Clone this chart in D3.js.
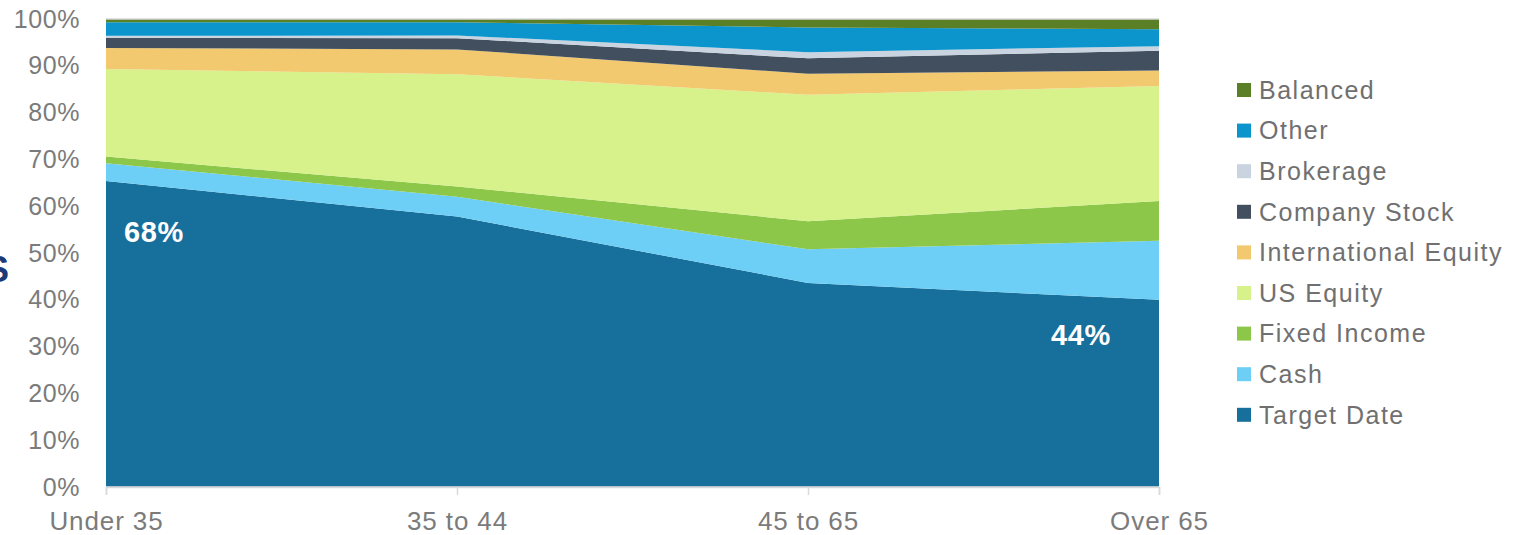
<!DOCTYPE html>
<html>
<head>
  <style>
    body { margin: 0; background: #fff; }
    svg text { font-family: "Liberation Sans", Arial, sans-serif; }
  </style>
</head>
<body>
  <svg id="chart" width="1522" height="535"></svg>
<script src="https://cdn.jsdelivr.net/npm/d3@7"></script>
<script>
  // age groups along the x axis
  let ages = ["Under 35", "35 to 44", "45 to 65", "Over 65"];

  // share of balances (%) per age group, bottom layer first
  let targetDate    = [65.4, 57.8, 43.6, 40.0];
  let cash          = [3.8, 4.2, 7.2, 12.6];
  let fixedIncome   = [1.4, 2.2, 6.0, 8.5];
  let usEquity      = [18.7, 24.0, 27.0, 24.6];
  let intlEquity    = [4.5, 5.3, 4.5, 3.3];
  let companyStock  = [2.2, 2.4, 3.3, 4.2];
  let brokerage     = [0.4, 0.6, 1.3, 1.0];
  let other         = [2.9, 2.8, 5.3, 3.6];
  let balanced      = [0.7, 0.7, 1.8, 2.2];

  let yTicks = [0, 10, 20, 30, 40, 50, 60, 70, 80, 90, 100];

  let series = [
    { name: "Target Date", values: targetDate, color: "#176f9c" },
    { name: "Cash", values: cash, color: "#6dcff6" },
    { name: "Fixed Income", values: fixedIncome, color: "#8dc74a" },
    { name: "US Equity", values: usEquity, color: "#d7f18b" },
    { name: "International Equity", values: intlEquity, color: "#f2c96f" },
    { name: "Company Stock", values: companyStock, color: "#414f5e" },
    { name: "Brokerage", values: brokerage, color: "#c9d4e0" },
    { name: "Other", values: other, color: "#0b95cc" },
    { name: "Balanced", values: balanced, color: "#5a7f27" }
  ];

  // callouts on the target date layer
  let callouts = [
    { age: "Under 35", text: "68%", dx: 18, y: 54.5 },
    { age: "Over 65", text: "44%", dx: -108, y: 32.5 }
  ];

  let rows = ages.map((a, i) => {
    let r = { age: a };
    series.forEach(s => r[s.name] = s.values[i]);
    return r;
  });

  let svg = d3.select("#chart");
  let plotLeft = 106, plotRight = 1159, plotTop = 19, plotBottom = 487;

  let x = d3.scalePoint().domain(ages).range([plotLeft, plotRight]);
  let y = d3.scaleLinear().domain([0, 100]).range([plotBottom, plotTop]);

  let stack = d3.stack().keys(series.map(s => s.name));
  let layers = stack(rows);

  let area = d3.area()
    .x(d => x(d.data.age))
    .y0(d => y(d[0]))
    .y1(d => y(d[1]));

  svg.append("g")
    .selectAll("path")
    .data(layers)
    .join("path")
    .attr("d", area)
    .attr("fill", (d, i) => series[i].color);

  // light frame lines at 0% and 100%
  svg.append("g")
    .selectAll("line")
    .data([0, 100])
    .join("line")
    .attr("x1", plotLeft).attr("x2", plotRight)
    .attr("y1", d => y(d)).attr("y2", d => y(d))
    .attr("stroke", "#d9d9d9")
    .attr("stroke-width", 1.5);

  // y axis
  let yAxis = d3.axisLeft(y)
    .tickValues(yTicks)
    .tickSize(0)
    .tickPadding(26)
    .tickFormat(d => d + "%");
  let gy = svg.append("g")
    .attr("transform", `translate(${plotLeft}, 0)`)
    .call(yAxis);
  gy.select(".domain").remove();
  gy.selectAll("text")
    .attr("fill", "#7b7b7b")
    .style("font-size", "25px")
    .style("letter-spacing", "0.6px");

  // x axis
  let xAxis = d3.axisBottom(x).tickSize(8).tickPadding(17);
  let gx = svg.append("g")
    .attr("transform", `translate(0, ${plotBottom})`)
    .call(xAxis);
  gx.select(".domain").attr("stroke", "#d9d9d9").attr("stroke-width", 1.5);
  gx.selectAll(".tick line").attr("stroke", "#d9d9d9").attr("stroke-width", 1.5);
  gx.selectAll("text")
    .attr("fill", "#7b7b7b")
    .style("font-size", "26px")
    .style("letter-spacing", "0.9px");

  // value callouts
  svg.append("g")
    .selectAll("text")
    .data(callouts)
    .join("text")
    .attr("x", d => x(d.age) + d.dx)
    .attr("y", d => y(d.y))
    .attr("dy", "0.35em")
    .attr("fill", "#fff")
    .style("font-size", "29px")
    .style("font-weight", "bold")
    .style("letter-spacing", "0.6px")
    .text(d => d.text);

  // legend, top entry is the top layer
  let legend = svg.append("g")
    .attr("transform", "translate(1237, 90)")
    .selectAll("g")
    .data(series.slice().reverse())
    .join("g")
    .attr("transform", (d, i) => `translate(0, ${i * 40.6})`);
  legend.append("rect")
    .attr("x", 0).attr("y", -7)
    .attr("width", 14).attr("height", 14)
    .attr("fill", d => d.color);
  legend.append("text")
    .attr("x", 22)
    .attr("dy", "0.35em")
    .attr("fill", "#707070")
    .style("font-size", "25px")
    .style("letter-spacing", "1.5px")
    .text(d => d.name);

  // clipped glyph at the left edge of the picture
  svg.append("text")
    .attr("x", -15)
    .attr("y", 282)
    .attr("fill", "#1d3a78")
    .style("font-size", "36px")
    .style("font-weight", "bold")
    .text("S");
</script>
</body>
</html>
